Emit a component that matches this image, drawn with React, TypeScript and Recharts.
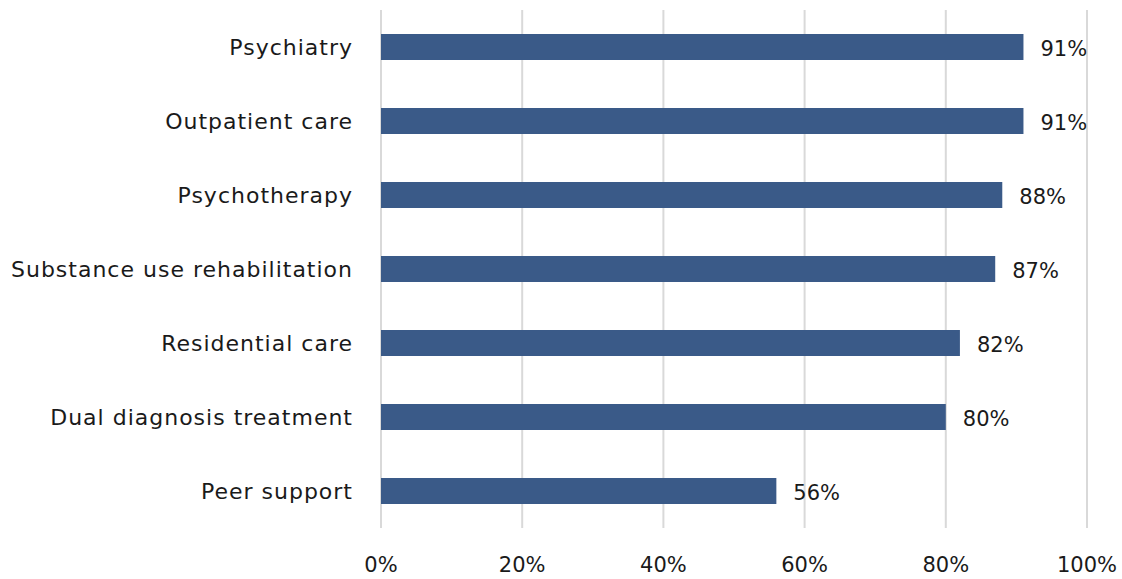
import { BarChart, Bar, XAxis, YAxis, CartesianGrid, LabelList } from 'recharts'

const services = [
  'Psychiatry',
  'Outpatient care',
  'Psychotherapy',
  'Substance use rehabilitation',
  'Residential care',
  'Dual diagnosis treatment',
  'Peer support',
]
const shares = [91, 91, 88, 87, 82, 80, 56]
const xTicks = [0, 20, 40, 60, 80, 100]

const BAR = '#3a5a88'
const INK = '#1a1a1a'
const FONT = "'DejaVu Sans', 'Noto Sans', sans-serif"

const data = services.map((name, i) => ({ name, value: shares[i] }))

export default function App() {
  return (
    <div style={{ position: 'absolute', left: 0, top: 0, background: '#fff' }}>
      <BarChart
        width={1122}
        height={579}
        data={data}
        layout="vertical"
        margin={{ top: 10, right: 35, left: 0, bottom: 0 }}
        barSize={26}
        style={{ fontFamily: FONT }}
      >
        <CartesianGrid horizontal={false} stroke="#d9d9d9" strokeWidth={2} />
        <XAxis
          type="number"
          domain={[0, 100]}
          ticks={xTicks}
          tickFormatter={(v) => `${v}%`}
          axisLine={false}
          tickLine={false}
          tickSize={0}
          tickMargin={29}
          height={51}
          tick={{ fill: INK, fontSize: 21 }}
          interval={0}
        />
        <YAxis
          type="category"
          dataKey="name"
          width={381}
          axisLine={false}
          tickLine={false}
          tickSize={0}
          tickMargin={28}
          tick={{ fill: INK, fontSize: 22, letterSpacing: 1 }}
          interval={0}
        />
        <Bar dataKey="value" fill={BAR} isAnimationActive={false}>
          <LabelList
            dataKey="value"
            position="right"
            offset={17}
            formatter={(v: any) => `${v}%`}
            style={{ fill: INK, fontSize: 21, transform: 'translateY(2px)' }}
          />
        </Bar>
      </BarChart>
    </div>
  )
}
